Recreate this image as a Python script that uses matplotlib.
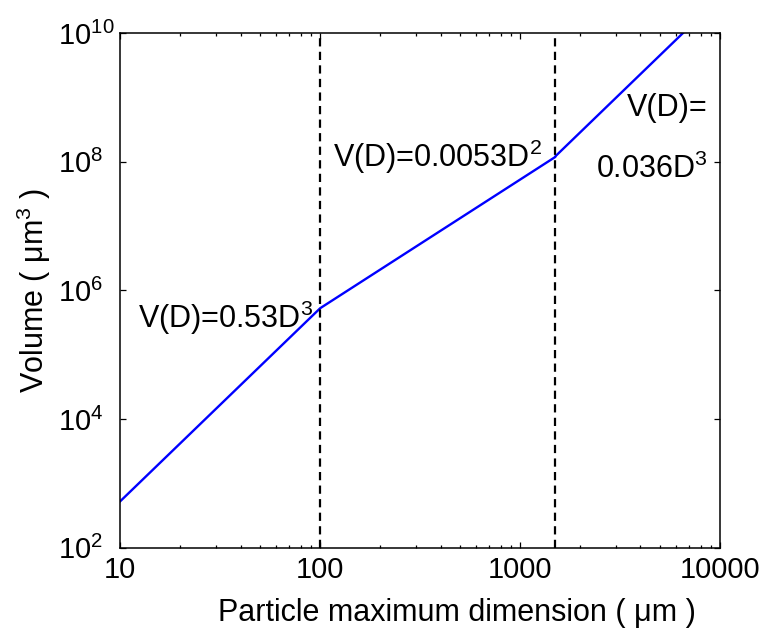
import matplotlib
matplotlib.use("Agg")
import matplotlib.pyplot as plt
from matplotlib.ticker import FixedLocator, FixedFormatter, NullLocator

plt.rcParams['font.family'] = ['Liberation Sans', 'DejaVu Sans']
plt.rcParams['mathtext.fontset'] = 'custom'
plt.rcParams['mathtext.rm'] = 'Liberation Sans'
plt.rcParams['mathtext.it'] = 'Liberation Sans'
plt.rcParams['mathtext.default'] = 'regular'

# piecewise V(D) curve, breakpoints of the fit
diam = [10, 100, 1500, 1500, 6520]
vol = [530, 5.3e5, 1.19e8, 1.215e8, 1e10]

# regime boundaries
breaks = [100, 1500]

xticks = [10, 100, 1000, 10000]
xticklabels = ['10', '100', '1000', '10000']
yticks = [1e2, 1e4, 1e6, 1e8, 1e10]
yticklabels = ['$10^{2}$', '$10^{4}$', '$10^{6}$', '$10^{8}$', '$10^{10}$']

fig = plt.figure(figsize=(7.66, 6.37), dpi=100)
ax = fig.add_axes([0.157, 0.140, 0.783, 0.808])

ax.plot(diam, vol, color=(0, 0, 1), lw=1.7)
for b in breaks:
    ax.axvline(b, color='k', ls=(0, (3.7, 2.4)), lw=1.6)

ax.set_xscale('log')
ax.set_yscale('log')
ax.set_xlim(10, 10000)
ax.set_ylim(1e2, 1e10)

ax.xaxis.set_major_locator(FixedLocator(xticks))
ax.xaxis.set_major_formatter(FixedFormatter(xticklabels))
ax.yaxis.set_major_locator(FixedLocator(yticks))
ax.yaxis.set_major_formatter(FixedFormatter(yticklabels))
ax.yaxis.set_minor_locator(NullLocator())

ax.tick_params(which='both', direction='in', top=True, right=True, width=0.9)
ax.tick_params(which='major', length=4.5)
ax.tick_params(which='minor', length=2.3)
ax.tick_params(axis='x', labelsize=21, pad=6)
ax.tick_params(axis='y', labelsize=21, pad=45)
for lbl in ax.get_yticklabels():
    lbl.set_horizontalalignment('left')
for s in ax.spines.values():
    s.set_linewidth(1.1)

ax.set_xlabel('Particle maximum dimension ( μm )', fontsize=22)
ax.xaxis.set_label_coords(0.562, -0.097)
ax.set_ylabel('Volume ( μm$^{3}$ )', fontsize=22)
ax.yaxis.set_label_coords(-0.112, 0.5)

ax.text(92, 3.7e5, 'V(D)=0.53D$^{3}$', fontsize=22, ha='right', va='center')
ax.text(116, 1.2e8, 'V(D)=0.0053D$^{2}$', fontsize=22, ha='left', va='center')
ax.text(8710, 6.8e8, 'V(D)=', fontsize=22, ha='right', va='center')
ax.text(8710, 7.6e7, '0.036D$^{3}$', fontsize=22, ha='right', va='center')

fig.savefig('out.png', dpi=100)
